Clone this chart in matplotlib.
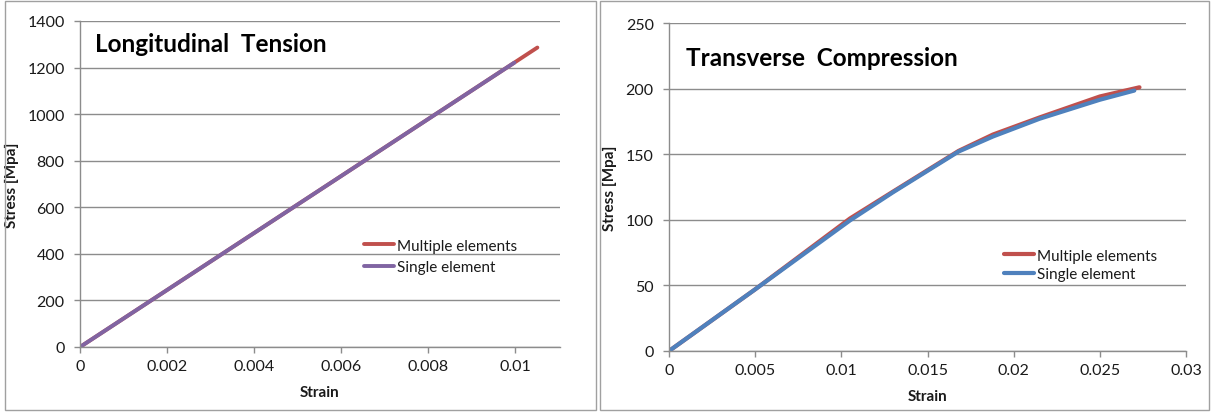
import matplotlib
matplotlib.use('Agg')
import matplotlib.pyplot as plt
from matplotlib.patches import Rectangle
from matplotlib.ticker import FuncFormatter

# --- data ---
lt_strain_multi = [0.0, 0.01051]
lt_stress_multi = [0.0, 1286.0]
lt_strain_single = [0.0, 0.00998]
lt_stress_single = [0.0, 1221.0]

tc_strain_multi = [0.0, 0.005, 0.0105, 0.013, 0.0168, 0.0188, 0.0215, 0.025, 0.0273]
tc_stress_multi = [0.0, 47.0, 101.0, 121.5, 152.5, 165.0, 178.0, 194.0, 201.0]
tc_strain_single = [0.0, 0.005, 0.0105, 0.013, 0.0168, 0.0188, 0.0215, 0.025, 0.0270]
tc_stress_single = [0.0, 47.0, 99.5, 121.0, 152.0, 163.5, 177.0, 191.5, 198.5]

lt_xticks = [0, 0.002, 0.004, 0.006, 0.008, 0.01]
lt_yticks = [0, 200, 400, 600, 800, 1000, 1200, 1400]
tc_xticks = [0, 0.005, 0.01, 0.015, 0.02, 0.025, 0.03]
tc_yticks = [0, 50, 100, 150, 200, 250]

RED = '#C0504D'
PURPLE = '#8064A2'
BLUE = '#4F81BD'
GRID = '#8C8C8C'
TXT = '#1a1a1a'

plt.rcParams['font.family'] = ['Lato', 'DejaVu Sans']

W, H = 1211, 414
fig = plt.figure(figsize=(W / 100, H / 100), dpi=100)
fig.patch.set_facecolor('white')


def px_axes(x0, y0, x1, y1):
    # pixel box (top-left origin) -> figure axes
    return fig.add_axes([x0 / W, 1 - y1 / H, (x1 - x0) / W, (y1 - y0) / H])


def style(ax, xticks, yticks, xmax, ymax):
    ax.set_xlim(0, xmax)
    ax.set_ylim(0, ymax)
    ax.set_xticks(xticks)
    ax.set_yticks(yticks)
    ax.xaxis.set_major_formatter(FuncFormatter(lambda v, p: '%g' % v))
    ax.grid(axis='y', color=GRID, lw=1.0)
    ax.set_axisbelow(True)
    for s in ['top', 'right']:
        ax.spines[s].set_visible(False)
    for s in ['left', 'bottom']:
        ax.spines[s].set_color(GRID)
        ax.spines[s].set_linewidth(1.0)
    ax.tick_params(axis='both', direction='out', length=4, width=1.0,
                   color=GRID, labelsize=11.5, labelcolor=TXT)
    ax.tick_params(axis='x', pad=5)
    ax.tick_params(axis='y', pad=7)


# panel borders
for (x0, x1) in [(5, 596), (600, 1209)]:
    fig.patches.append(Rectangle((x0 / W, 3 / H), (x1 - x0) / W, (412 - 3) / H,
                                 transform=fig.transFigure, fill=False,
                                 edgecolor='#A0A0A0', lw=1.0))

# --- left: longitudinal tension ---
ax1 = px_axes(80, 22, 560, 348)
style(ax1, lt_xticks, lt_yticks, 0.01103, 1400)
ax1.plot(lt_strain_multi, lt_stress_multi, color=RED, lw=2.8,
         label='Multiple elements', solid_capstyle='round')
ax1.plot(lt_strain_single, lt_stress_single, color=PURPLE, lw=2.8,
         label='Single element', solid_capstyle='round')
ax1.set_xlabel('Strain', fontsize=11, fontweight='bold', color=TXT, labelpad=8)
ax1.set_ylabel('Stress [Mpa]', fontsize=11, fontweight='bold', color=TXT, labelpad=6)
fig.text(95 / W, 1 - 45 / H, 'Longitudinal  Tension', fontsize=17.5,
         fontweight='bold', va='center', ha='left', color='black')
ax1.legend(loc='upper left', bbox_to_anchor=(350 / W, 1 - 226 / H),
           bbox_transform=fig.transFigure, frameon=False, fontsize=11,
           handlelength=2.0, handletextpad=0.2, labelspacing=0.5,
           labelcolor=TXT)

# --- right: transverse compression ---
ax2 = px_axes(669, 24, 1186, 352)
style(ax2, tc_xticks, tc_yticks, 0.03, 250)
ax2.plot(tc_strain_multi, tc_stress_multi, color=RED, lw=3.0,
         label='Multiple elements', solid_capstyle='round')
ax2.plot(tc_strain_single, tc_stress_single, color=BLUE, lw=3.0,
         label='Single element', solid_capstyle='round')
ax2.set_xlabel('Strain', fontsize=11, fontweight='bold', color=TXT, labelpad=8)
ax2.set_ylabel('Stress [Mpa]', fontsize=11, fontweight='bold', color=TXT, labelpad=6)
fig.text(686 / W, 1 - 58 / H, 'Transverse  Compression', fontsize=17.5,
         fontweight='bold', va='center', ha='left', color='black')
ax2.legend(loc='upper left', bbox_to_anchor=(990 / W, 1 - 236 / H),
           bbox_transform=fig.transFigure, frameon=False, fontsize=11,
           handlelength=2.0, handletextpad=0.2, labelspacing=0.3,
           labelcolor=TXT)

fig.savefig('out.png', dpi=100)
